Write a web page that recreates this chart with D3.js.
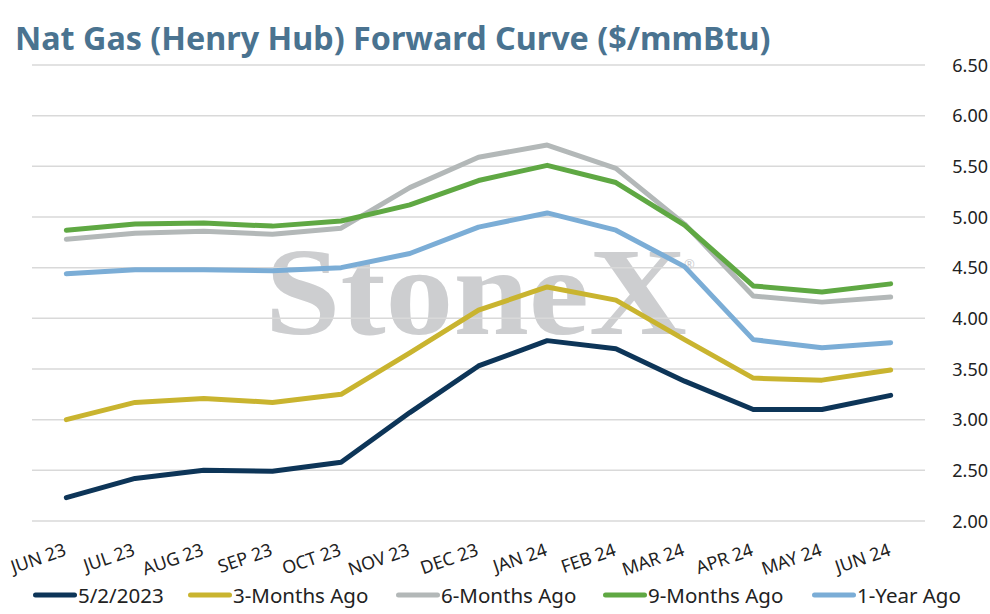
<!DOCTYPE html>
<meta charset="utf-8">
<style>
    body { margin: 0; background: #fff; }
    .grid line { stroke: #d9d9d9; stroke-width: 1.5; }
    .series { fill: none; stroke-width: 5; stroke-linejoin: round; stroke-linecap: round; }
</style>
<svg width="990" height="614"></svg>
<script src="https://d3js.org/d3.v7.min.js"></script>
<script>

    var months = ["JUN 23", "JUL 23", "AUG 23", "SEP 23", "OCT 23", "NOV 23", "DEC 23",
                  "JAN 24", "FEB 24", "MAR 24", "APR 24", "MAY 24", "JUN 24"];

    var yTicks = [2.00, 2.50, 3.00, 3.50, 4.00, 4.50, 5.00, 5.50, 6.00, 6.50];

    var seriesNames = ["5/2/2023", "3-Months Ago", "6-Months Ago", "9-Months Ago", "1-Year Ago"];
    var seriesColors = ["#0d3558", "#c9b42f", "#b3b8b8", "#5fa843", "#7badd6"];

    var current   = [2.23, 2.42, 2.50, 2.49, 2.58, 3.07, 3.53, 3.78, 3.70, 3.38, 3.10, 3.10, 3.24];
    var months3   = [3.00, 3.17, 3.21, 3.17, 3.25, 3.66, 4.08, 4.31, 4.18, 3.79, 3.41, 3.39, 3.49];
    var months6   = [4.78, 4.84, 4.86, 4.83, 4.89, 5.29, 5.59, 5.71, 5.48, 4.93, 4.22, 4.16, 4.21];
    var months9   = [4.87, 4.93, 4.94, 4.91, 4.96, 5.12, 5.36, 5.51, 5.34, 4.92, 4.32, 4.26, 4.34];
    var yearAgo   = [4.44, 4.48, 4.48, 4.47, 4.50, 4.64, 4.90, 5.04, 4.87, 4.51, 3.79, 3.71, 3.76];

    var allSeries = [current, months3, months6, months9, yearAgo];

    var svg = d3.select("svg"),
        plotLeft = 32, plotRight = 925, plotTop = 65, plotBottom = 521,
        font = "'Noto Sans', Lato, sans-serif";

    var x = d3.scaleBand().domain(months).range([plotLeft, plotRight]).padding(0),
        y = d3.scaleLinear().domain([2, 6.5]).range([plotBottom, plotTop]);

    // title
    svg.append("text")
        .attr("x", 15)
        .attr("y", 50)
        .style("font-family", font)
        .attr("font-size", 32.3)
        .attr("font-weight", "bold")
        .attr("fill", "#4a7390")
        .text("Nat Gas (Henry Hub) Forward Curve ($/mmBtu)");

    // watermark
    var wm = svg.append("g");
    wm.append("text")
        .attr("x", 265)
        .attr("y", 334)
        .style("font-family", "'Liberation Serif', 'DejaVu Serif', serif")
        .attr("font-size", 124)
        .attr("font-weight", "bold")
        .attr("textLength", 422)
        .attr("lengthAdjust", "spacingAndGlyphs")
        .attr("fill", "#cdced0")
        .text("StoneX");
    wm.append("text")
        .attr("x", 684)
        .attr("y", 269)
        .style("font-family", font)
        .attr("font-size", 13)
        .attr("fill", "#cdced0")
        .text("\u00ae");

    // gridlines
    svg.append("g")
        .attr("class", "grid")
        .selectAll("line")
        .data(yTicks)
        .enter().append("line")
        .attr("x1", plotLeft)
        .attr("x2", plotRight)
        .attr("y1", function(d) { return y(d); })
        .attr("y2", function(d) { return y(d); });

    // y labels on the right
    svg.append("g")
        .selectAll("text")
        .data(yTicks)
        .enter().append("text")
        .attr("x", 988)
        .attr("y", function(d) { return y(d) + 6.5; })
        .attr("text-anchor", "end")
        .style("font-family", font)
        .attr("font-size", 18)
        .attr("fill", "#222")
        .text(function(d) { return d.toFixed(2); });

    // x labels, rotated
    svg.append("g")
        .selectAll("text")
        .data(months)
        .enter().append("text")
        .attr("transform", function(d) {
            return "translate(" + (x(d) + x.bandwidth() / 2 + 1) + ",555) rotate(-19)";
        })
        .attr("text-anchor", "end")
        .style("font-family", font)
        .attr("font-size", 18)
        .attr("fill", "#222")
        .text(function(d) { return d; });

    // lines
    var line = d3.line()
        .x(function(d, i) { return x(months[i]) + x.bandwidth() / 2; })
        .y(function(d) { return y(d); });

    svg.append("g")
        .selectAll("path")
        .data(allSeries)
        .enter().append("path")
        .attr("class", "series")
        .attr("stroke", function(d, i) { return seriesColors[i]; })
        .attr("d", line);

    // legend
    var legendX = [33, 188, 396, 603, 812];
    var lg = svg.append("g")
        .selectAll("g")
        .data(seriesNames)
        .enter().append("g")
        .attr("transform", function(d, i) { return "translate(" + legendX[i] + ",595)"; });

    lg.append("line")
        .attr("x1", 2.5).attr("x2", 41.5)
        .attr("stroke", function(d, i) { return seriesColors[i]; })
        .attr("stroke-width", 5)
        .attr("stroke-linecap", "round");

    lg.append("text")
        .attr("x", 45)
        .attr("y", 8)
        .style("font-family", font)
        .attr("font-size", 20.5)
        .attr("fill", "#222")
        .text(function(d) { return d; });
</script>
